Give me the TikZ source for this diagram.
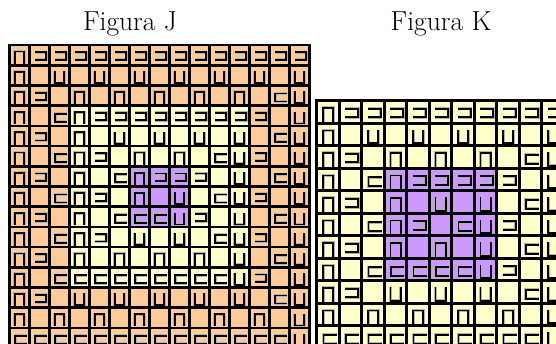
\documentclass[tikz,border=0pt]{standalone}
\definecolor{peach}{HTML}{FFCC99}
\definecolor{cream}{HTML}{FFFFCC}
\definecolor{lilac}{HTML}{CC99FF}
\newcommand\glyphpath[1]{\draw[halo] #1; \draw[glyph] #1;}
\tikzset{
  glyph/.style={line width=1.8pt, draw=black, line join=miter},
  halo/.style={line width=3pt, draw=black!30},
  gridline/.style={line width=2.6pt, draw=black, line cap=rect},
  title/.style={anchor=base, font=\fontsize{27.5}{32}\selectfont},
  pics/gn/.style={code={\glyphpath{(0.28,0.93)--(0.28,0.32)--(0.74,0.32)--(0.74,0.93)}}},
  pics/gu/.style={code={\glyphpath{(0.28,0.3)--(0.28,0.89)--(0.74,0.89)--(0.74,0.3)}}},
  pics/gd/.style={code={\glyphpath{(0.26,0.36)--(0.85,0.36)--(0.85,0.73)--(0.26,0.73)}}},
  pics/gc/.style={code={\glyphpath{(0.9,0.4)--(0.3,0.4)--(0.3,0.8)--(0.9,0.8)}}},
  pics/ge/.style={code={}},
}
\begin{document}
\begin{tikzpicture}[x=1pt,y=-1pt]
\useasboundingbox (0,0) rectangle (556,343);
\clip (0,0) rectangle (556,343);
\fill[white] (0,0) rectangle (556,343);
% titles
\node[title] (tj) at (130,30) {Figura J};
\node[title] (tk) at (441,30) {Figura K};
% ---------- Figura J ----------
\begin{scope}[shift={(9.3,45)}]
  \fill[peach] (0,0) rectangle (300,303);
  \fill[cream] (60,60.6) rectangle (240,242.4);
  \fill[lilac] (120,121.2) rectangle (180,181.8);
  \foreach \row [count=\r from 0] in {
    {n,d,d,d,d,d,d,d,d,d,d,d,d,d,d},
    {n,e,u,e,u,e,u,e,u,e,u,e,u,e,u},
    {n,d,e,n,e,n,e,n,e,n,e,n,e,c,u},
    {n,e,c,n,d,d,d,d,d,d,d,d,d,e,u},
    {n,d,e,n,e,u,e,u,e,u,e,u,e,c,u},
    {n,e,c,n,d,e,n,e,n,e,c,u,d,e,u},
    {n,d,e,n,e,c,n,d,d,d,e,u,e,c,u},
    {n,e,c,n,d,e,n,e,u,e,c,u,d,e,u},
    {n,d,e,n,e,c,c,c,u,d,e,u,e,c,u},
    {n,e,c,n,d,e,u,e,u,e,c,u,d,e,u},
    {n,d,e,n,e,n,e,n,e,n,e,u,e,c,u},
    {n,e,c,c,c,c,c,c,c,c,c,u,d,e,u},
    {n,d,e,u,e,u,e,u,e,u,e,u,e,c,u},
    {n,e,n,e,n,e,n,e,n,e,n,e,n,e,u},
    {c,c,c,c,c,c,c,c,c,c,c,c,c,c,u}} {
    \foreach \t [count=\c from 0] in \row {
      \pic[xscale=20,yscale=20.2] at (20*\c,20.2*\r) {g\t};
    }
  }
  \foreach \i in {0,...,15} {
    \draw[gridline] (20*\i,0) -- (20*\i,303);
    \draw[gridline] (0,20.2*\i) -- (300,20.2*\i);
  }
\end{scope}
% ---------- Figura K ----------
\begin{scope}[shift={(316.7,100.7)}]
  \fill[cream] (0,0) rectangle (247.5,247.5);
  \fill[lilac] (67.5,67.5) rectangle (180,180);
  \foreach \row [count=\r from 0] in {
    {n,d,d,d,d,d,d,d,d,d,d},
    {n,e,u,e,u,e,u,e,u,e,u},
    {n,d,e,n,e,n,e,n,e,c,u},
    {n,e,c,n,d,d,d,d,d,e,u},
    {n,d,e,n,e,u,e,u,e,c,u},
    {n,e,c,n,d,e,c,u,d,e,u},
    {n,d,e,n,e,n,e,u,e,c,u},
    {n,e,c,c,c,c,c,u,d,e,u},
    {n,d,e,u,e,u,e,u,e,c,u},
    {n,e,n,e,n,e,n,e,n,e,u},
    {c,c,c,c,c,c,c,c,c,c,u}} {
    \foreach \t [count=\c from 0] in \row {
      \pic[xscale=22.5,yscale=22.5] at (22.5*\c,22.5*\r) {g\t};
    }
  }
  \foreach \i in {0,...,11} {
    \draw[gridline] (22.5*\i,0) -- (22.5*\i,247.5);
    \draw[gridline] (0,22.5*\i) -- (247.5,22.5*\i);
  }
\end{scope}
\end{tikzpicture}
\end{document}
